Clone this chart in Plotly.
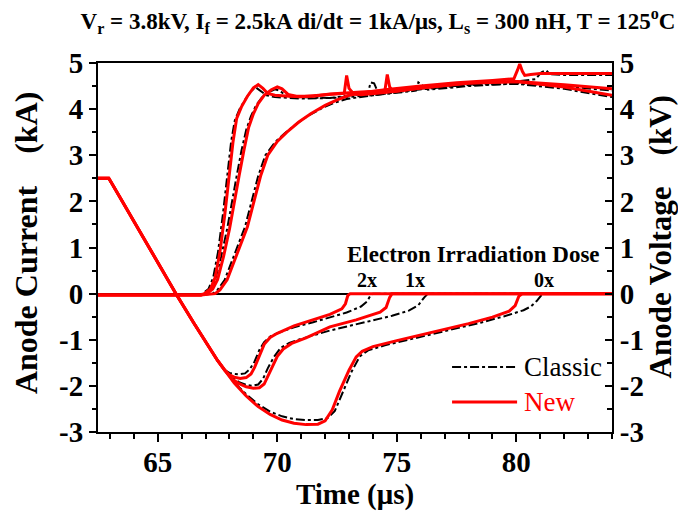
import plotly.graph_objects as go

# ---------------- data (time in us, current in kA, voltage in kV) ----------------
# shared current ramp-down before the curves separate
t_ramp = [62.5, 62.95, 63.1, 64.0, 65.0, 65.76, 66.5, 67.0, 67.5, 67.8]
i_ramp = [2.5, 2.5, 2.37, 1.56, 0.68, 0.0, -0.63, -1.05, -1.45, -1.66]

# current tails per irradiation dose
t_i_new_2x = [68.0, 68.2, 68.45, 68.7, 68.9, 69.05, 69.25, 69.45, 69.7, 70.0, 70.7, 71.5, 72.2, 72.7, 72.85, 72.95, 73.05, 84.0]
i_new_2x = [-1.76, -1.81, -1.84, -1.82, -1.74, -1.6, -1.33, -1.1, -0.95, -0.86, -0.7, -0.57, -0.45, -0.33, -0.22, -0.04, 0.0, 0.0]
t_i_cls_2x = [68.0, 68.2, 68.4, 68.65, 68.85, 69.05, 69.25, 69.45, 69.7, 70.0, 70.7, 71.5, 72.2, 72.9, 73.5, 73.75, 73.9, 74.0, 84.0]
i_cls_2x = [-1.72, -1.74, -1.75, -1.73, -1.64, -1.47, -1.22, -1.05, -0.93, -0.86, -0.73, -0.62, -0.52, -0.41, -0.28, -0.17, -0.04, 0.0, 0.0]

t_i_new_1x = [68.1, 68.4, 68.7, 69.0, 69.25, 69.45, 69.6, 69.8, 70.0, 70.25, 70.6, 71.2, 72.2, 73.3, 74.3, 74.55, 74.7, 74.8, 84.0]
i_new_1x = [-1.85, -1.95, -2.02, -2.05, -2.04, -1.96, -1.8, -1.55, -1.36, -1.2, -1.08, -0.96, -0.72, -0.57, -0.4, -0.3, -0.08, 0.0, 0.0]
t_i_cls_1x = [68.1, 68.4, 68.7, 68.95, 69.2, 69.4, 69.6, 69.85, 70.15, 70.5, 71.0, 72.2, 73.5, 74.8, 75.5, 75.9, 76.15, 76.3, 84.0]
i_cls_1x = [-1.82, -1.92, -1.98, -2.0, -1.97, -1.85, -1.62, -1.38, -1.17, -1.07, -0.98, -0.8, -0.64, -0.48, -0.37, -0.25, -0.08, 0.0, 0.0]

t_i_new_0x = [68.2, 68.7, 69.2, 69.7, 70.2, 70.7, 71.2, 71.7, 72.0, 72.3, 72.6, 73.0, 73.3, 73.55, 74.0, 75.0, 76.0, 77.0, 78.0, 79.0, 79.7, 79.95, 80.1, 80.25, 84.0]
i_new_0x = [-1.94, -2.22, -2.45, -2.62, -2.74, -2.81, -2.84, -2.83, -2.76, -2.52, -2.12, -1.66, -1.37, -1.25, -1.15, -1.02, -0.9, -0.78, -0.65, -0.51, -0.38, -0.26, -0.06, 0.0, 0.0]
t_i_cls_0x = [68.2, 68.7, 69.2, 69.7, 70.2, 70.7, 71.2, 71.7, 72.1, 72.4, 72.7, 73.1, 73.45, 73.8, 74.5, 75.5, 76.5, 77.5, 78.5, 79.5, 80.3, 80.6, 80.85, 81.05, 81.15, 84.0]
i_cls_0x = [-1.93, -2.18, -2.4, -2.56, -2.66, -2.72, -2.74, -2.74, -2.7, -2.55, -2.2, -1.7, -1.36, -1.23, -1.12, -1.0, -0.88, -0.76, -0.63, -0.49, -0.36, -0.28, -0.16, -0.03, 0.0, 0.0]

# anode voltage: flat before turn-off, then rise per dose
t_v_off = [62.5, 66.8]
v_off = [-0.03, -0.03]

t_v_new_2x = [66.95, 67.2, 67.4, 67.6, 67.8, 68.0, 68.15, 68.3, 68.5, 68.75, 69.0, 69.2, 69.4, 69.6, 69.9, 70.5, 71.0, 72.0, 72.8, 72.9, 73.0, 73.2, 73.5, 74.5, 76.0, 78.0, 80.0, 82.0, 84.0]
v_new_2x = [0.0, 0.1, 0.35, 0.9, 1.7, 2.6, 3.3, 3.8, 4.05, 4.28, 4.46, 4.53, 4.45, 4.34, 4.3, 4.28, 4.27, 4.31, 4.34, 4.73, 4.45, 4.33, 4.31, 4.36, 4.46, 4.57, 4.6, 4.48, 4.3]
t_v_cls_2x = [66.87, 67.12, 67.32, 67.52, 67.72, 67.92, 68.07, 68.22, 68.42, 68.67, 68.92, 69.1, 69.3, 69.55, 69.9, 71.0, 72.2, 73.0, 73.8, 73.9, 74.05, 74.2, 76.0, 78.0, 80.0, 82.0, 84.0]
v_cls_2x = [0.0, 0.1, 0.35, 0.9, 1.7, 2.6, 3.3, 3.75, 4.0, 4.22, 4.4, 4.47, 4.4, 4.3, 4.26, 4.23, 4.24, 4.29, 4.35, 4.58, 4.56, 4.38, 4.44, 4.52, 4.55, 4.44, 4.26]

t_v_new_1x = [67.05, 67.3, 67.5, 67.75, 68.0, 68.2, 68.4, 68.6, 68.8, 69.0, 69.2, 69.45, 69.75, 70.0, 70.2, 70.45, 70.8, 71.5, 72.2, 73.5, 74.5, 74.6, 74.7, 74.85, 76.0, 78.0, 80.0, 82.0, 84.0]
v_new_1x = [0.0, 0.1, 0.3, 0.8, 1.4, 2.0, 2.55, 3.1, 3.6, 3.9, 4.12, 4.3, 4.42, 4.48, 4.44, 4.32, 4.28, 4.28, 4.33, 4.37, 4.4, 4.75, 4.48, 4.38, 4.46, 4.56, 4.6, 4.53, 4.44]
t_v_cls_1x = [66.95, 67.2, 67.4, 67.65, 67.9, 68.1, 68.3, 68.5, 68.7, 68.9, 69.1, 69.35, 69.65, 69.9, 70.1, 70.35, 70.7, 72.2, 74.0, 75.8, 75.9, 76.1, 76.3, 78.0, 80.0, 82.0, 84.0]
v_cls_1x = [0.0, 0.1, 0.3, 0.8, 1.4, 2.0, 2.55, 3.1, 3.55, 3.85, 4.07, 4.25, 4.37, 4.43, 4.4, 4.3, 4.26, 4.24, 4.3, 4.4, 4.58, 4.5, 4.42, 4.5, 4.56, 4.5, 4.4]

t_v_new_0x = [67.4, 67.6, 67.9, 68.2, 68.5, 68.75, 69.0, 69.3, 69.6, 70.0, 70.4, 70.9, 71.4, 72.0, 72.5, 73.0, 73.5, 74.5, 76.0, 77.5, 79.0, 79.9, 80.05, 80.14, 80.25, 80.35, 80.6, 81.0, 84.0]
v_new_0x = [0.0, 0.08, 0.3, 0.7, 1.1, 1.45, 1.95, 2.55, 3.0, 3.3, 3.5, 3.72, 3.9, 4.08, 4.2, 4.3, 4.35, 4.42, 4.5, 4.57, 4.62, 4.66, 4.85, 4.98, 4.82, 4.73, 4.75, 4.77, 4.77]
t_v_cls_0x = [67.3, 67.5, 67.8, 68.1, 68.4, 68.65, 68.9, 69.2, 69.5, 69.9, 70.3, 70.8, 71.3, 71.9, 72.4, 72.9, 74.0, 75.5, 77.0, 78.5, 80.0, 80.8, 81.05, 81.25, 81.4, 82.0, 84.0]
v_cls_0x = [0.0, 0.08, 0.3, 0.7, 1.1, 1.45, 1.95, 2.55, 3.0, 3.28, 3.47, 3.68, 3.86, 4.03, 4.14, 4.22, 4.3, 4.4, 4.48, 4.55, 4.6, 4.65, 4.8, 4.84, 4.76, 4.74, 4.74]

x_ticks = [65, 70, 75, 80]
y_ticks = [-3, -2, -1, 0, 1, 2, 3, 4, 5]
dose_labels = ["2x", "1x", "0x"]
dose_label_x = [73.75, 75.76, 81.16]

FONT = "Liberation Serif, Times New Roman, serif"
CLASSIC = dict(color="black", width=2, dash="dashdot")
NEW = dict(color="#ff0000", width=3)
TICKFONT = dict(family=FONT, size=29, color="black", weight="bold")


def bold(vals):
    return [f"<b>{v}</b>" for v in vals]


fig = go.Figure()

def add(t, y, style, axis):
    fig.add_trace(go.Scatter(x=t, y=y, mode="lines", line=style,
                             showlegend=False, yaxis=axis, hoverinfo="skip"))

classic = [
    (t_ramp + t_i_cls_2x, i_ramp + i_cls_2x, "y"),
    (t_ramp + t_i_cls_1x, i_ramp + i_cls_1x, "y"),
    (t_ramp + t_i_cls_0x, i_ramp + i_cls_0x, "y"),
    (t_v_off + t_v_cls_2x, v_off + v_cls_2x, "y2"),
    (t_v_off + t_v_cls_1x, v_off + v_cls_1x, "y2"),
    (t_v_off + t_v_cls_0x, v_off + v_cls_0x, "y2"),
]
new = [
    (t_ramp + t_i_new_2x, i_ramp + i_new_2x, "y"),
    (t_ramp + t_i_new_1x, i_ramp + i_new_1x, "y"),
    (t_ramp + t_i_new_0x, i_ramp + i_new_0x, "y"),
    (t_v_off + t_v_new_2x, v_off + v_new_2x, "y2"),
    (t_v_off + t_v_new_1x, v_off + v_new_1x, "y2"),
    (t_v_off + t_v_new_0x, v_off + v_new_0x, "y2"),
]
for t, y, ax in classic:
    add(t, y, CLASSIC, ax)
for t, y, ax in new:
    add(t, y, NEW, ax)

axis_common = dict(range=[-3, 5], tickvals=y_ticks, ticktext=bold(y_ticks),
                   showgrid=False, showline=True, linecolor="black", linewidth=2,
                   tickfont=TICKFONT, tickcolor="black", tickwidth=2,
                   automargin=False)

fig.update_layout(
    width=678, height=515,
    template="none",
    paper_bgcolor="white", plot_bgcolor="white",
    margin=dict(l=98, r=66, t=63, b=83),
    font=dict(family=FONT, color="black"),
    title=dict(
        text="<b>V<sub>r</sub> = 3.8kV, I<sub>f</sub> = 2.5kA di/dt = 1kA/μs, "
             "L<sub>s</sub> = 300 nH, T = 125<sup>o</sup>C</b>",
        x=378 / 678, xanchor="center", xref="container",
        y=1 - 21 / 515, yanchor="middle", yref="container",
        font=dict(family=FONT, size=23, color="black"),
    ),
    xaxis=dict(
        range=[62.5, 84], tickvals=x_ticks, ticktext=bold(x_ticks),
        showgrid=False, zeroline=False,
        showline=True, mirror=True, linecolor="black", linewidth=2,
        ticks="outside", ticklen=8, tickwidth=2, tickcolor="black",
        minor=dict(dtick=1, ticks="outside", ticklen=5, tickwidth=1.5,
                   tickcolor="black", showgrid=False),
        tickfont=TICKFONT, ticklabelstandoff=-5,
        title=dict(text="<b>Time (μs)</b>", font=dict(family=FONT, size=29), standoff=4),
        automargin=False,
    ),
    yaxis=dict(
        **axis_common,
        zeroline=True, zerolinecolor="black", zerolinewidth=1.5,
        ticks="outside", ticklen=7,
        minor=dict(dtick=0.5, ticks="outside", ticklen=4, tickwidth=1.5,
                   tickcolor="black", showgrid=False),
    ),
    yaxis2=dict(
        **axis_common,
        overlaying="y", side="right", zeroline=False,
        ticks="inside", ticklen=7,
        minor=dict(dtick=0.5, ticks="inside", ticklen=5, tickwidth=1.5,
                   tickcolor="black", showgrid=False),
    ),
)

# axis titles
fig.add_annotation(text="<b>Anode Current    (kA)</b>", textangle=-90,
                   xref="paper", yref="paper", x=-0.14, y=0.512,
                   xanchor="center", yanchor="middle", showarrow=False,
                   font=dict(family=FONT, size=32, color="black"))
fig.add_annotation(text="<b>Anode Voltage    (kV)</b>", textangle=-90,
                   xref="paper", yref="paper", x=1.094, y=0.528,
                   xanchor="center", yanchor="middle", showarrow=False,
                   font=dict(family=FONT, size=31, color="black"))

# dose annotations
fig.add_annotation(text="<b>Electron Irradiation Dose</b>", x=78.21, y=0.84,
                   xref="x", yref="y", showarrow=False,
                   font=dict(family=FONT, size=23, color="black"))
for lbl, xl in zip(dose_labels, dose_label_x):
    fig.add_annotation(text=f"<b>{lbl}</b>", x=xl, y=0.3, xref="x", yref="y",
                       showarrow=False, font=dict(family=FONT, size=20, color="black"))

# legend drawn in data space
legend_rows = [("Classic", CLASSIC, "black", -1.59), ("New", NEW, "#ff0000", -2.35)]
for name, style, col, yl in legend_rows:
    fig.add_shape(type="line", x0=77.31, x1=80.03, y0=yl, y1=yl, xref="x", yref="y",
                  line=style)
    fig.add_annotation(text=name, x=80.22, y=yl, xref="x", yref="y", xanchor="left",
                       showarrow=False, font=dict(family=FONT, size=27, color=col))

fig.write_html("out.html")
